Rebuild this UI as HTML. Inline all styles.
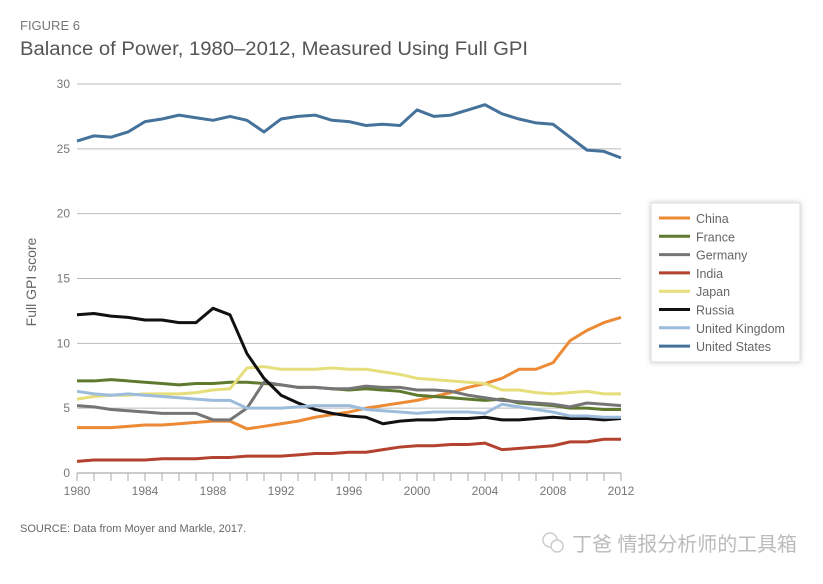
<!DOCTYPE html>
<html><head><meta charset="utf-8"><style>
body{margin:0;background:#fff;width:823px;height:579px;overflow:hidden;font-family:"Liberation Sans",sans-serif}
</style></head><body>
<svg width="823" height="579" id="chart" xmlns="http://www.w3.org/2000/svg">
<text x="20" y="30" font-size="13" fill="#777">FIGURE 6</text>
<text x="20" y="55" font-size="19" fill="#555" textLength="508" lengthAdjust="spacingAndGlyphs">Balance of Power, 1980–2012, Measured Using Full GPI</text>
<text transform="translate(36,282) rotate(-90)" text-anchor="middle" font-size="14" fill="#666">Full GPI score</text>
<g id="grid"></g><g id="series"></g>
<g>
<rect x="651" y="203" width="149" height="159" fill="#fff" stroke="#ddd" style="filter:drop-shadow(0 0 3px #ccc)"/>
<g id="legend"></g></g>
<text x="20" y="532" font-size="11" fill="#666">SOURCE: Data from Moyer and Markle, 2017.</text>
<g>
<circle cx="550" cy="540" r="7" fill="none" stroke="#ccc" stroke-width="1.5"/><circle cx="557" cy="546" r="6" fill="#fff" stroke="#ccc" stroke-width="1.5"/>
<text x="572" y="551" font-size="20" fill="#bbb" textLength="225" lengthAdjust="spacingAndGlyphs" font-family="'Liberation Sans','Noto Sans CJK SC',sans-serif">丁爸 情报分析师的工具箱</text></g>
</svg>
<script>
const years=[];for(let y=1980;y<=2012;y++)years.push(y);
const yTicks=[0,5,10,15,20,25,30];
const xTickLabels=[1980,1984,1988,1992,1996,2000,2004,2008,2012];
const seriesNames=["China","France","Germany","India","Japan","Russia","United Kingdom","United States"];
const seriesColors=["#ec8a35","#5f7a2e","#757575","#b3422e","#e6de7a","#111111","#9dbcdc","#45729a"];
const china=[3.5,3.5,3.5,3.6,3.7,3.7,3.8,3.9,4.0,4.0,3.4,3.6,3.8,4.0,4.3,4.5,4.7,5.0,5.2,5.4,5.6,5.9,6.2,6.6,6.9,7.3,8.0,8.0,8.5,10.2,11.0,11.6,12.0];
const france=[7.1,7.1,7.2,7.1,7.0,6.9,6.8,6.9,6.9,7.0,7.0,6.9,6.8,6.6,6.6,6.5,6.4,6.5,6.4,6.3,6.0,5.9,5.8,5.7,5.6,5.7,5.4,5.3,5.2,5.0,5.0,4.9,4.9];
const germany=[5.2,5.1,4.9,4.8,4.7,4.6,4.6,4.6,4.1,4.1,5.0,7.0,6.8,6.6,6.6,6.5,6.5,6.7,6.6,6.6,6.4,6.4,6.3,6.0,5.8,5.6,5.5,5.4,5.3,5.1,5.4,5.3,5.2];
const india=[0.9,1.0,1.0,1.0,1.0,1.1,1.1,1.1,1.2,1.2,1.3,1.3,1.3,1.4,1.5,1.5,1.6,1.6,1.8,2.0,2.1,2.1,2.2,2.2,2.3,1.8,1.9,2.0,2.1,2.4,2.4,2.6,2.6];
const japan=[5.7,5.9,6.0,6.0,6.1,6.1,6.1,6.2,6.4,6.5,8.1,8.2,8.0,8.0,8.0,8.1,8.0,8.0,7.8,7.6,7.3,7.2,7.1,7.0,6.9,6.4,6.4,6.2,6.1,6.2,6.3,6.1,6.1];
const russia=[12.2,12.3,12.1,12.0,11.8,11.8,11.6,11.6,12.7,12.2,9.2,7.3,6.0,5.4,4.9,4.6,4.4,4.3,3.8,4.0,4.1,4.1,4.2,4.2,4.3,4.1,4.1,4.2,4.3,4.2,4.2,4.1,4.2];
const uk=[6.3,6.1,6.0,6.1,6.0,5.9,5.8,5.7,5.6,5.6,5.0,5.0,5.0,5.1,5.2,5.2,5.2,4.9,4.8,4.7,4.6,4.7,4.7,4.7,4.6,5.3,5.1,4.9,4.7,4.4,4.4,4.3,4.3];
const us=[25.6,26.0,25.9,26.3,27.1,27.3,27.6,27.4,27.2,27.5,27.2,26.3,27.3,27.5,27.6,27.2,27.1,26.8,26.9,26.8,28.0,27.5,27.6,28.0,28.4,27.7,27.3,27.0,26.9,25.9,24.9,24.8,24.3];
const allSeries=[china,france,germany,india,japan,russia,uk,us];
const X0=77,X1=621,Y0=473,Y1=84;
const xs=y=>X0+(y-1980)/(2012-1980)*(X1-X0);
const ys=v=>Y0-v/30*(Y0-Y1);
const NS="http://www.w3.org/2000/svg";
function mk(t,a,p){const e=document.createElementNS(NS,t);for(const k in a)e.setAttribute(k,a[k]);p.appendChild(e);return e;}
const grid=document.getElementById('grid');
yTicks.forEach(v=>{
 const l=mk('line',{x1:X0,x2:X1,y1:ys(v),y2:ys(v),stroke:v===0?'#999':'#bbb','stroke-width':1},grid);
 
 
 const t=mk('text',{x:X0-7,y:ys(v)+4,'text-anchor':'end','font-size':12,fill:'#777'},grid);
 t.textContent=v;
 
 
});
years.forEach(y=>{
 const l=mk('line',{x1:xs(y),x2:xs(y),y1:Y0,y2:Y0+8,stroke:'#aaa'},grid);
 
 
});
xTickLabels.forEach(y=>{
 const t=mk('text',{x:xs(y),y:Y0+22,'text-anchor':'middle','font-size':12,fill:'#777'},grid);
 t.textContent=y;
 
 
});
const sg=document.getElementById('series');
allSeries.forEach((d,i)=>{
 const p=mk('polyline',{points:d.map((v,j)=>xs(years[j])+','+ys(v)).join(' '),fill:'none',stroke:seriesColors[i],'stroke-width':3,'stroke-linejoin':'round'},sg);
 
 
});
const lg=document.getElementById('legend');
seriesNames.forEach((n,i)=>{
 const y=218+i*18.3;
 const l=mk('line',{x1:659,x2:690,y1:y,y2:y,stroke:seriesColors[i],'stroke-width':3},lg);
 
 
 const t=mk('text',{x:696,y:y+5,'font-size':12.5,fill:'#666'},lg);
 t.textContent=n;
 
 
});
</script>
</body></html>
